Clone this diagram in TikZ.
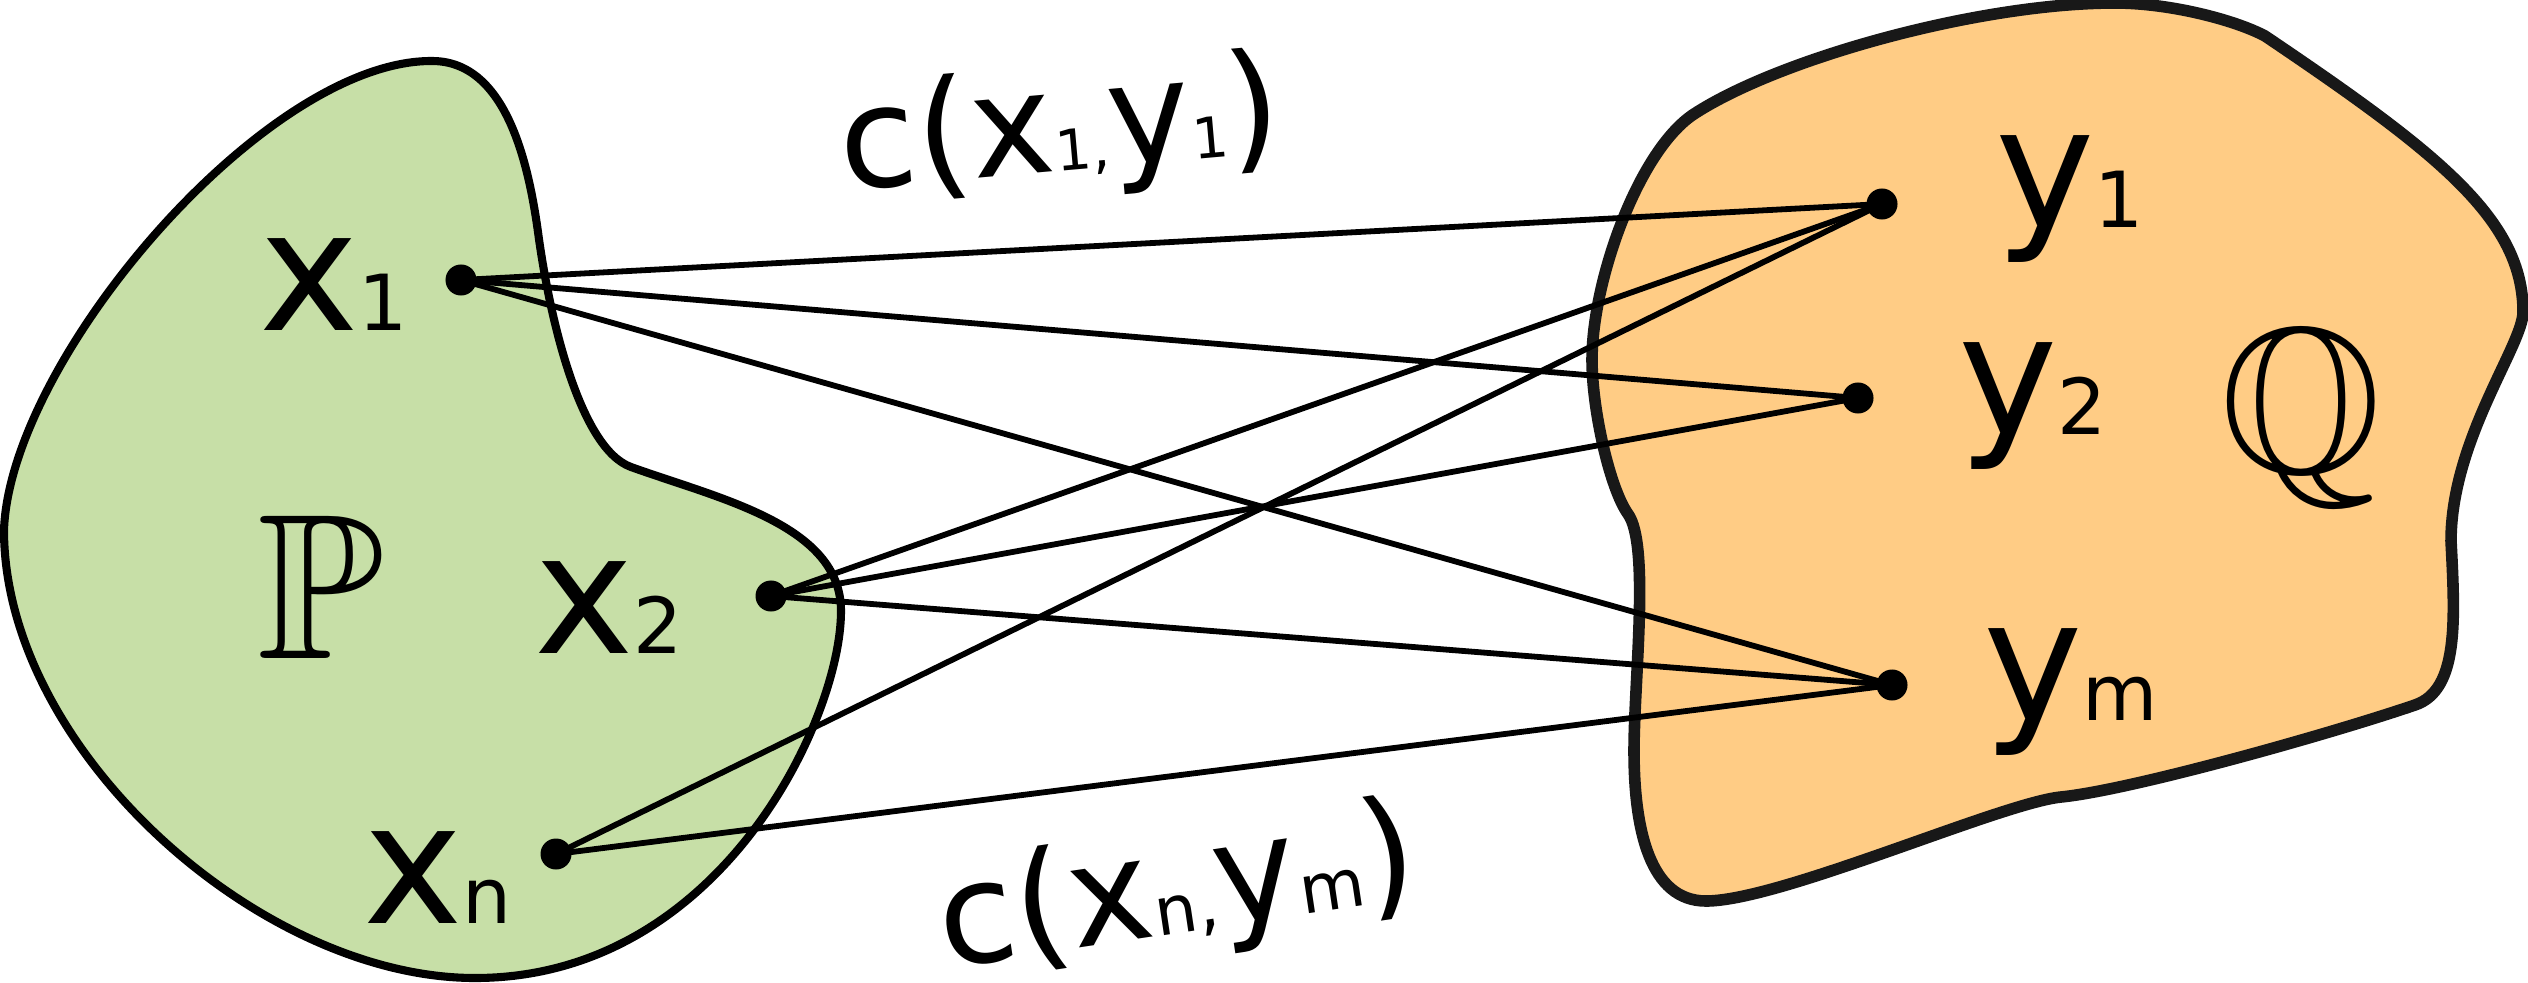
\documentclass[tikz,border=0pt]{standalone}
\usepackage{amssymb}
\usepackage{fontspec}
\setmainfont{DejaVu Sans}
\definecolor{pgreen}{RGB}{199,223,167}
\definecolor{qorange}{RGB}{255,204,133}
\definecolor{qedge}{RGB}{24,24,24}
\newcommand{\ptlab}[2]{{\fontsize{47.8}{50}\selectfont #1}{\fontsize{22}{24}\selectfont #2}}
\begin{document}
\begin{tikzpicture}[x=0.01cm,y=-0.01cm,
  dot/.style={circle,fill=black,inner sep=0pt,minimum size=0.31cm},
  conn/.style={line width=1.65pt},
  lab/.style={anchor=base west,inner sep=0pt,outer sep=0pt},
  bb/.style={anchor=base,inner sep=0pt,outer sep=0pt,font=\fontsize{59}{62}\selectfont}]
\useasboundingbox (0,0) rectangle (2528,982);
% green set P
\draw[fill=pgreen,line width=2.3pt,line join=round] (432,61)
  .. controls (505,61) and (528,160) .. (538,232)
  .. controls (550,322) and (581,449) .. (631,467)
  .. controls (720,499) and (841,525) .. (841,611)
  .. controls (841,719) and (720,978) .. (475,978)
  .. controls (260,978) and (4,750) .. (4,530)
  .. controls (10,360) and (265,60) .. (432,61) -- cycle;
% orange set Q
\draw[fill=qorange,draw=qedge,line width=3.3pt,line join=round] (1694,114)
  .. controls (1780,58) and (1980,3) .. (2115,3)
  .. controls (2170,3) and (2235,20) .. (2265,36)
  .. controls (2440,154) and (2523,220) .. (2523,312)
  .. controls (2523,345) and (2451,440) .. (2451,541)
  .. controls (2455,620) and (2459,690) .. (2415,705)
  .. controls (2330,734) and (2131,790) .. (2061,797)
  .. controls (2001,803) and (1780,901) .. (1706,901)
  .. controls (1650,901) and (1634,830) .. (1634,751)
  .. controls (1634,680) and (1650,545) .. (1628,514)
  .. controls (1610,489) and (1592,410) .. (1592,360)
  .. controls (1592,280) and (1639,150) .. (1694,114) -- cycle;
% labels
\node[lab] (lx1) at (259,330) {\ptlab{x}{1}};
\node[lab] (lx2) at (534,653) {\ptlab{x}{2}};
\node[lab] (lxn) at (363,923) {\ptlab{x}{n}};
\node[lab] (ly1) at (1995,228) {\ptlab{y}{1}};
\node[lab] (ly2) at (1958,434) {\ptlab{y}{2}};
\node[lab] (lym) at (1983,720) {\ptlab{y}{m}};
\node[bb] (lP) at (321,658) {$\mathbb{P}$};
\node[bb] (lQ) at (2301,472) {$\mathbb{Q}$};
\node[lab,rotate=5] (c1) at (843,190) {\fontsize{40}{42}\selectfont c(x{\fontsize{16}{18}\selectfont 1,}y{\fontsize{16}{18}\selectfont 1})};
\node[lab,rotate=8.5] (c2) at (945,968) {\fontsize{40}{42}\selectfont c(x{\fontsize{19}{21}\selectfont n,}y{\fontsize{19}{21}\selectfont m})};
% points
\node[dot] (x1) at (461,280) {};
\node[dot] (x2) at (771,596) {};
\node[dot] (xn) at (556,854) {};
\node[dot] (y1) at (1882,204) {};
\node[dot] (y2) at (1858,398) {};
\node[dot] (ym) at (1892,685) {};
% connectors
\draw[conn] (x1.center) -- (y1.center);
\draw[conn] (x1.center) -- (y2.center);
\draw[conn] (x1.center) -- (ym.center);
\draw[conn] (x2.center) -- (y1.center);
\draw[conn] (x2.center) -- (y2.center);
\draw[conn] (x2.center) -- (ym.center);
\draw[conn] (xn.center) -- (y1.center);
\draw[conn] (xn.center) -- (ym.center);
\end{tikzpicture}
\end{document}
